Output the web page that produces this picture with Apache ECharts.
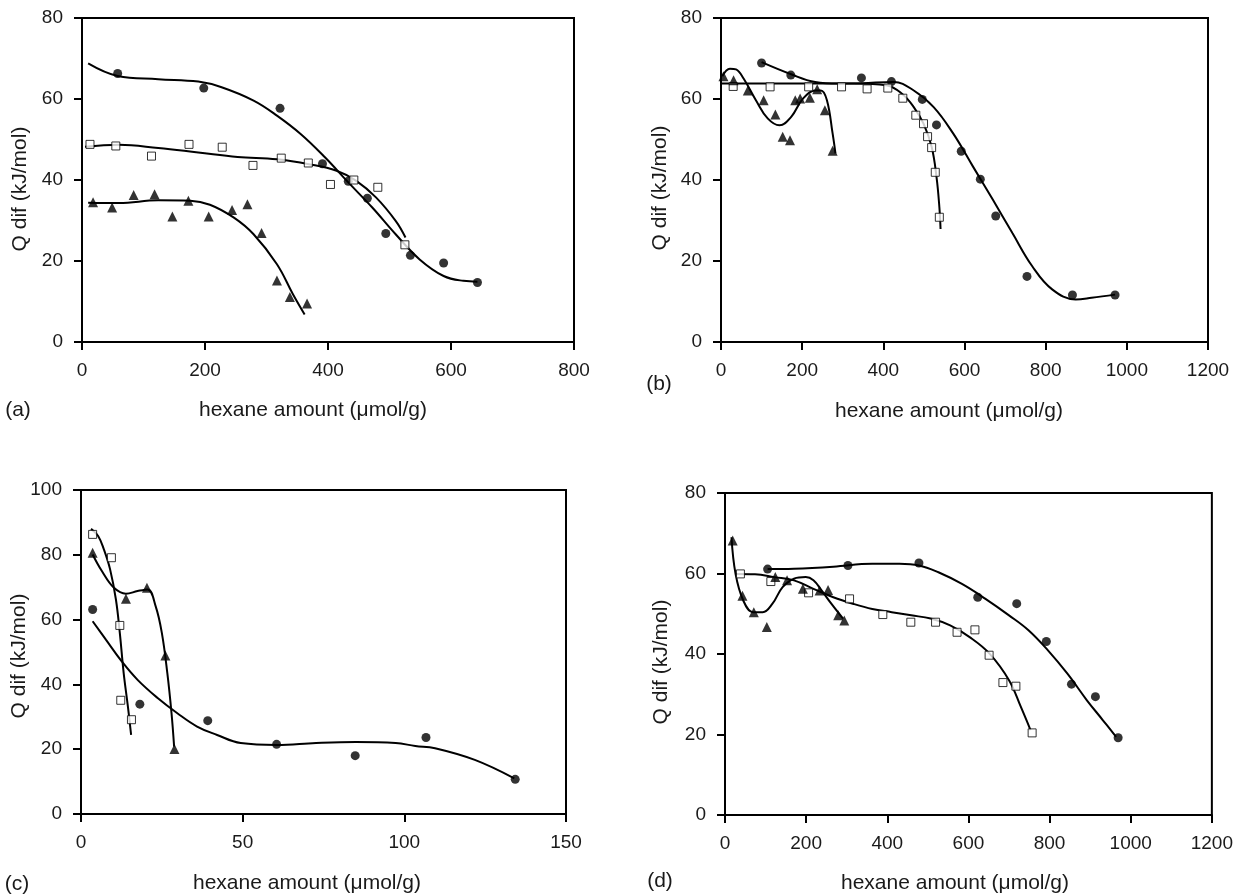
<!DOCTYPE html>
<html>
<head>
<meta charset="utf-8">
<title>Q dif vs hexane amount</title>
<script src="https://cdn.jsdelivr.net/npm/echarts@6/dist/echarts.min.js"></script>
<style>
  html, body { margin: 0; padding: 0; background: #fff; }
  #main { width: 1236px; height: 894px; }
</style>
</head>
<body>
<div id="main"></div>
<script>
// ---------- panel (a) ----------
var aCircles = [[58,66.3],[198,62.7],[322,57.7],[391,44.0],[433,39.7],[464,35.5],[494,26.8],[534,21.4],[588,19.5],[643,14.7]];
var aSquares = [[13,48.8],[55,48.4],[113,45.9],[174,48.8],[228,48.1],[278,43.6],[324,45.4],[368,44.2],[404,38.9],[442,40.0],[481,38.2],[525,24.0]];
var aTriangles = [[18,34.5],[49,33.2],[84,36.3],[118,36.5],[147,31.0],[173,34.9],[206,31.0],[244,32.6],[269,34.0],[292,26.9],[317,15.2],[338,11.1],[366,9.5]];
var aCircleFit = [[10,68.8],[58,65.7],[124,64.9],[189,64.3],[227,62.9],[279,59.6],[317,55.9],[356,51.3],[395,45.6],[433,39.4],[472,33.2],[510,26.6],[549,20.4],[588,16.3],[620,15.1],[643,14.9]];
var aSquareFit = [[5,48.2],[60,48.7],[124,47.9],[189,46.8],[253,45.7],[317,45.1],[369,43.9],[414,42.3],[446,39.8],[478,35.7],[510,29.9],[526,25.8]];
var aTriangleFit = [[10,34.4],[60,34.3],[124,35.0],[176,34.9],[208,33.9],[247,30.7],[279,26.6],[317,19.2],[343,11.8],[362,6.8]];

// ---------- panel (b) ----------
var bCircles = [[100,68.9],[172,65.9],[346,65.2],[420,64.3],[496,59.9],[531,53.6],[592,47.1],[639,40.2],[677,31.1],[754,16.2],[866,11.6],[971,11.6]];
var bSquares = [[30,63.1],[121,63.0],[216,63.0],[297,63.0],[360,62.5],[411,62.7],[448,60.2],[480,56.0],[499,53.9],[509,50.7],[519,48.0],[528,41.9],[538,30.8]];
var bTriangles = [[6,65.6],[31,64.6],[66,62.1],[105,59.7],[134,56.2],[152,50.7],[170,49.8],[183,59.7],[195,60.1],[219,60.3],[237,62.4],[256,57.2],[275,47.2]];
var bCircleFit = [[100,69.1],[173,66.1],[232,64.2],[290,63.8],[348,63.9],[426,64.2],[475,62.1],[524,58.0],[572,51.5],[621,43.3],[670,35.1],[718,26.9],[767,18.7],[816,13.0],[874,10.5],[913,10.9],[971,11.7]];
var bSquareFit = [[0,63.8],[232,63.8],[329,63.8],[407,63.4],[446,61.3],[475,58.0],[499,53.9],[519,48.2],[531,40.8],[538,33.4],[541,27.9]];
var bTriangleFit = [[3,65.6],[22,67.5],[37,67.3],[56,65.0],[86,59.7],[115,55.2],[144,53.5],[173,55.6],[202,60.1],[232,62.1],[246,62.1],[261,59.7],[275,51.5],[282,46.6]];

// ---------- panel (c) ----------
var cCircles = [[3.6,63.1],[18.2,33.9],[39.2,28.8],[60.5,21.5],[84.8,18.0],[106.7,23.6],[134.3,10.7]];
var cSquares = [[3.6,86.3],[9.4,79.1],[12.0,58.2],[12.3,35.1],[15.6,29.1]];
var cTriangles = [[3.6,80.6],[13.9,66.4],[20.4,69.8],[26.1,48.9],[28.9,20.1]];
var cCircleFit = [[3.6,59.5],[7.7,53.8],[12.6,47.1],[17.5,41.4],[23.7,35.8],[29.8,31.1],[35.9,27.0],[42.1,24.4],[49.4,21.9],[60.5,21.3],[72.7,21.9],[85,22.2],[97.3,21.9],[103.4,21.0],[109.5,20.3],[121.8,16.7],[134,11.0]];
var cSquareFit = [[3.1,88.0],[5.3,85.8],[7.1,81.6],[9.0,75.5],[10.8,66.2],[12.0,55.9],[13.2,43.5],[14.5,33.2],[15.5,24.4]];
var cTriangleFit = [[3.6,80.1],[6.5,74.9],[10.2,69.8],[13.9,68.0],[17.5,68.8],[20.6,69.3],[23.1,64.1],[25.0,55.9],[26.7,43.5],[28.0,31.1],[28.8,20.8]];

// ---------- panel (d) ----------
var dCircles = [[105,61.1],[303,62.0],[478,62.6],[623,54.1],[719,52.5],[792,43.1],[854,32.5],[913,29.4],[969,19.2]];
var dSquares = [[38,59.9],[113,58.0],[206,55.2],[307,53.7],[389,49.8],[458,47.9],[519,47.9],[572,45.4],[616,46.0],[651,39.7],[685,32.9],[717,32.0],[757,20.4]];
var dTriangles = [[19,68.2],[43,54.5],[71,50.4],[103,46.7],[124,59.1],[153,58.3],[192,56.2],[233,55.8],[254,55.9],[279,49.6],[294,48.3]];
var dCircleFit = [[105,61.1],[170,61.2],[267,61.7],[363,62.4],[430,62.4],[478,62.0],[526,60.3],[584,57.4],[642,53.7],[700,49.6],[748,45.9],[796,40.9],[844,35.1],[892,28.5],[931,23.6],[964,19.4]];
var dSquareFit = [[26,59.9],[74,59.8],[122,59.1],[170,58.3],[218,56.2],[267,54.1],[315,52.5],[363,51.2],[411,50.4],[459,49.6],[507,48.8],[555,47.1],[603,44.2],[652,40.1],[700,33.5],[729,26.9],[753,21.1]];
var dTriangleFit = [[16,69.0],[26,59.9],[45,53.3],[69,50.4],[93,50.4],[117,52.5],[142,56.6],[170,58.7],[199,59.1],[218,58.3],[238,55.8],[262,52.5],[291,48.8]];

var xTitle = 'hexane amount (\u03bcmol/g)';
var yTitle = 'Q dif (kJ/mol)';

var panels = [
  { tag: '(a)', grid: {left: 82, top: 18, width: 492, height: 324}, xMax: 800, xStep: 200, yMax: 80, yStep: 20,
    pts: [aCircles, aSquares, aTriangles], fits: [aCircleFit, aSquareFit, aTriangleFit],
    tagAt: [18, 410], xTitleAt: [313, 410], yTitleAt: [20, 189] },
  { tag: '(b)', grid: {left: 721, top: 18, width: 487, height: 324}, xMax: 1200, xStep: 200, yMax: 80, yStep: 20,
    pts: [bCircles, bSquares, bTriangles], fits: [bCircleFit, bSquareFit, bTriangleFit],
    tagAt: [659, 384], xTitleAt: [949, 411], yTitleAt: [660, 188] },
  { tag: '(c)', grid: {left: 81, top: 490, width: 485, height: 324}, xMax: 150, xStep: 50, yMax: 100, yStep: 20,
    pts: [cCircles, cSquares, cTriangles], fits: [cCircleFit, cSquareFit, cTriangleFit],
    tagAt: [17, 884], xTitleAt: [307, 883], yTitleAt: [19, 656] },
  { tag: '(d)', grid: {left: 725, top: 493, width: 492, height: 322}, xMax: 1200, xStep: 200, yMax: 80, yStep: 20,
    pts: [dCircles, dSquares, dTriangles], fits: [dCircleFit, dSquareFit, dTriangleFit],
    tagAt: [660, 881], xTitleAt: [955, 883], yTitleAt: [661, 662] }
];

var markers = [
  { symbol: 'circle', size: 9, itemStyle: { color: '#000' } },
  { symbol: 'rect', size: 8, itemStyle: { color: '#fff', borderColor: '#000', borderWidth: 1 } },
  { symbol: 'triangle', size: 10, itemStyle: { color: '#000' } }
];

var font = '"Liberation Sans", Arial, sans-serif';
var grids = [], xAxes = [], yAxes = [], series = [], graphics = [];

function axisStyle() {
  return {
    axisLine: { show: true, lineStyle: { color: '#000', width: 2 } },
    axisTick: { show: true, length: 8, lineStyle: { color: '#000', width: 2 } },
    splitLine: { show: false },
    axisLabel: { color: '#1a1a1a', fontSize: 19, margin: 19,
                 formatter: function (v) { return String(v); } }
  };
}

panels.forEach(function (p, i) {
  grids.push(Object.assign({ show: true, borderColor: '#000', borderWidth: 2 }, p.grid));
  xAxes.push(Object.assign({ type: 'value', gridIndex: i, min: 0, max: p.xMax, interval: p.xStep }, axisStyle()));
  yAxes.push(Object.assign({ type: 'value', gridIndex: i, min: 0, max: p.yMax, interval: p.yStep }, axisStyle()));

  p.fits.forEach(function (fit) {
    series.push({
      type: 'line', xAxisIndex: i, yAxisIndex: i, data: fit, smooth: 0.4,
      symbol: 'none', lineStyle: { color: '#000', width: 2 }, z: 2, silent: true
    });
  });
  p.pts.forEach(function (pts, k) {
    var m = markers[k];
    series.push({
      type: 'scatter', xAxisIndex: i, yAxisIndex: i, data: pts,
      symbol: m.symbol, symbolSize: m.size, itemStyle: m.itemStyle, z: 3
    });
  });

  graphics.push({ type: 'text', x: p.tagAt[0], y: p.tagAt[1],
    style: { text: p.tag, font: '21px ' + font, fill: '#1a1a1a', textAlign: 'center', textVerticalAlign: 'middle' } });
  graphics.push({ type: 'text', x: p.xTitleAt[0], y: p.xTitleAt[1],
    style: { text: xTitle, font: '21px ' + font, fill: '#1a1a1a', textAlign: 'center', textVerticalAlign: 'middle' } });
  graphics.push({ type: 'text', x: p.yTitleAt[0], y: p.yTitleAt[1], rotation: Math.PI / 2,
    style: { text: yTitle, font: '21px ' + font, fill: '#1a1a1a', textAlign: 'center', textVerticalAlign: 'middle' } });
});

var chart = echarts.init(document.getElementById('main'));
chart.setOption({
  backgroundColor: '#fff',
  animation: false,
  textStyle: { fontFamily: font },
  grid: grids,
  xAxis: xAxes,
  yAxis: yAxes,
  series: series,
  graphic: graphics
});
</script>
</body>
</html>
